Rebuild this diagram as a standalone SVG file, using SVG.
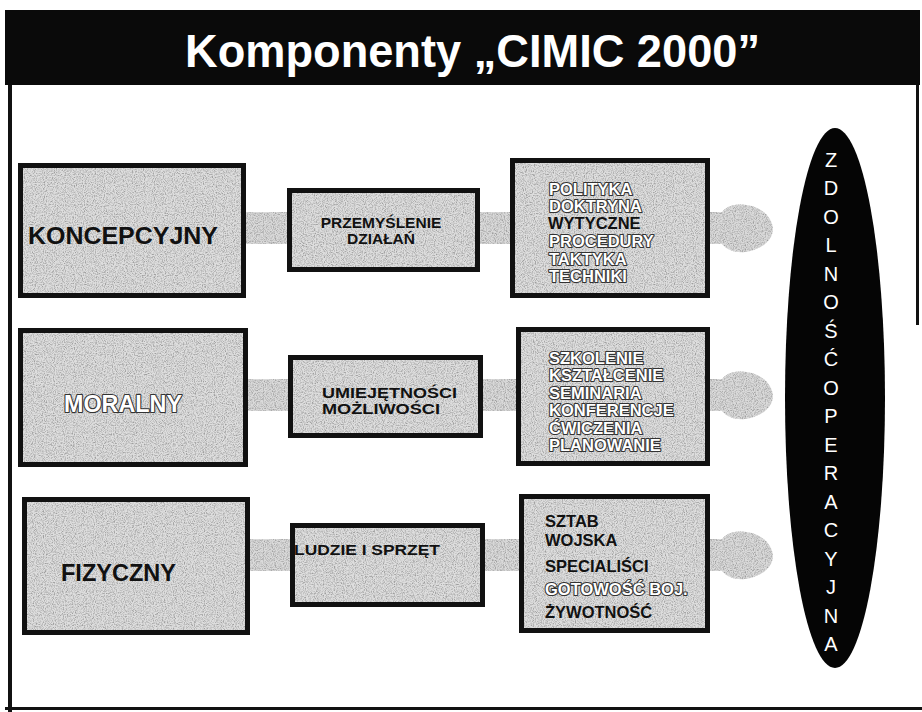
<svg xmlns="http://www.w3.org/2000/svg" width="922" height="712" viewBox="0 0 922 712">
<style>
.fill{fill:#dedede;filter:url(#grain)}
.frame{fill:none;stroke:#111;stroke-width:5}
.band{fill:#dadada;filter:url(#grain)}
.big{font-family:"Liberation Sans",Arial,sans-serif;font-weight:bold;font-size:23px}
.mid{font-family:"Liberation Sans",Arial,sans-serif;font-weight:bold;font-size:15.5px;fill:#111}
.lst{font-family:"Liberation Sans",Arial,sans-serif;font-weight:bold;font-size:16.5px}
.dk{fill:#111}
.wt{fill:#fff;stroke:#333;stroke-width:2.2;paint-order:stroke;stroke-linejoin:round}
.el{font-family:"Liberation Sans",Arial,sans-serif;font-size:20px;fill:#fff;text-anchor:middle}
</style>
<defs>
<filter id="grain" x="0" y="0" width="100%" height="100%">
<feTurbulence type="fractalNoise" baseFrequency="0.9" numOctaves="2" seed="4" result="n"/>
<feColorMatrix in="n" type="matrix" values="0 0 0 0 0.35 0 0 0 0 0.35 0 0 0 0 0.35 2.6 0 0 0 -1.05" result="dots"/>
<feComposite in="dots" in2="SourceGraphic" operator="in" result="d2"/>
<feMerge><feMergeNode in="SourceGraphic"/><feMergeNode in="d2"/></feMerge>
</filter>
<path id="arrow" d="M245 -16 L722 -16 C728 -24 740 -25 752 -22 C765 -18 773 -8 773 2 C772 12 762 22 745 24 C735 25 727 22 722 16 L245 16 Z"/>
</defs>
<rect width="922" height="712" fill="#fff"/>
<g id="frame">
<rect x="5" y="10" width="915" height="75" fill="#0a0a0a"/>
<rect x="8" y="85" width="4" height="627" fill="#111"/>
<rect x="916" y="85" width="3" height="240" fill="#111"/>
<rect x="5" y="707" width="917" height="3" fill="#111"/>
<text x="185" y="67" textLength="575" lengthAdjust="spacingAndGlyphs" font-family="'Liberation Sans',Arial,sans-serif" font-weight="bold" font-size="46" fill="#fff">Komponenty „CIMIC 2000”</text>
</g>
<g id="connectors">
<use href="#arrow" y="228" class="band"/>
<use href="#arrow" y="395" class="band"/>
<use href="#arrow" y="555" class="band"/>
</g>
<g id="koncepcyjny">
<rect x="20.5" y="165.5" width="223" height="130" class="fill"/>
<rect x="20.5" y="165.5" width="223" height="130" class="frame"/>
<text x="28" y="244" textLength="190" lengthAdjust="spacingAndGlyphs" class="big dk">KONCEPCYJNY</text>
</g>
<g id="przemyslenie">
<rect x="289.5" y="190.5" width="188" height="79" class="fill"/>
<rect x="289.5" y="190.5" width="188" height="79" class="frame"/>
<text class="mid" text-anchor="middle"><tspan x="381" y="228">PRZEMYŚLENIE</tspan><tspan x="381" y="244">DZIAŁAŃ</tspan></text>
</g>
<g id="polityka">
<rect x="512.5" y="160.5" width="195" height="135" class="fill"/>
<rect x="512.5" y="160.5" width="195" height="135" class="frame"/>
<text class="lst"><tspan x="549" y="195" class="wt">POLITYKA</tspan><tspan x="549" y="212" class="wt">DOKTRYNA</tspan><tspan x="548" y="229" class="dk">WYTYCZNE</tspan><tspan x="549" y="247" class="wt">PROCEDURY</tspan><tspan x="549" y="265" class="wt">TAKTYKA</tspan><tspan x="549" y="282" class="wt">TECHNIKI</tspan></text>
</g>
<g id="moralny">
<rect x="20.5" y="330.5" width="225" height="134" class="fill"/>
<rect x="20.5" y="330.5" width="225" height="134" class="frame"/>
<text x="64" y="412" textLength="118" lengthAdjust="spacingAndGlyphs" class="big wt" font-size="23">MORALNY</text>
</g>
<g id="umiejetnosci">
<rect x="290.5" y="357.5" width="190" height="78" class="fill"/>
<rect x="290.5" y="357.5" width="190" height="78" class="frame"/>
<text class="mid"><tspan x="322" y="398" textLength="135" lengthAdjust="spacingAndGlyphs">UMIEJĘTNOŚCI</tspan><tspan x="322" y="414" textLength="118" lengthAdjust="spacingAndGlyphs">MOŻLIWOŚCI</tspan></text>
</g>
<g id="szkolenie">
<rect x="518.5" y="329.5" width="189" height="134" class="fill"/>
<rect x="518.5" y="329.5" width="189" height="134" class="frame"/>
<text class="lst"><tspan x="549" y="364" class="wt">SZKOLENIE</tspan><tspan x="549" y="381" class="wt">KSZTAŁCENIE</tspan><tspan x="549" y="399" class="wt">SEMINARIA</tspan><tspan x="549" y="416" class="wt">KONFERENCJE</tspan><tspan x="549" y="434" class="wt">ĆWICZENIA</tspan><tspan x="549" y="451" class="wt">PLANOWANIE</tspan></text>
</g>
<g id="fizyczny">
<rect x="24.5" y="499.5" width="223" height="133" class="fill"/>
<rect x="24.5" y="499.5" width="223" height="133" class="frame"/>
<text x="61" y="581" textLength="115" lengthAdjust="spacingAndGlyphs" class="big dk">FIZYCZNY</text>
</g>
<g id="ludzie">
<rect x="292.5" y="525.5" width="190" height="79" class="fill"/>
<rect x="292.5" y="525.5" width="190" height="79" class="frame"/>
<text x="294" y="555" textLength="146" lengthAdjust="spacingAndGlyphs" class="mid">LUDZIE I SPRZĘT</text>
</g>
<g id="sztab">
<rect x="521.5" y="496.5" width="186" height="134" class="fill"/>
<rect x="521.5" y="496.5" width="186" height="134" class="frame"/>
<text class="lst"><tspan x="545" y="527" class="dk">SZTAB</tspan><tspan x="545" y="546" class="dk">WOJSKA</tspan><tspan x="545" y="572" class="dk">SPECIALIŚCI</tspan><tspan x="545" y="595" class="wt">GOTOWOŚĆ BOJ.</tspan><tspan x="545" y="618" class="dk">ŻYWOTNOŚĆ</tspan></text>
</g>
<g id="zdolnosc">
<ellipse cx="835" cy="398" rx="50" ry="270" fill="#050505"/>
<text class="el"><tspan x="831" y="167">Z</tspan><tspan x="831" y="195">D</tspan><tspan x="831" y="224">O</tspan><tspan x="831" y="252">L</tspan><tspan x="831" y="281">N</tspan><tspan x="831" y="309">O</tspan><tspan x="831" y="338">Ś</tspan><tspan x="831" y="366">Ć</tspan><tspan x="831" y="395">O</tspan><tspan x="831" y="423">P</tspan><tspan x="831" y="452">E</tspan><tspan x="831" y="480">R</tspan><tspan x="831" y="509">A</tspan><tspan x="831" y="537">C</tspan><tspan x="831" y="566">Y</tspan><tspan x="831" y="594">J</tspan><tspan x="831" y="623">N</tspan><tspan x="831" y="651">A</tspan></text>
</g>
</svg>
